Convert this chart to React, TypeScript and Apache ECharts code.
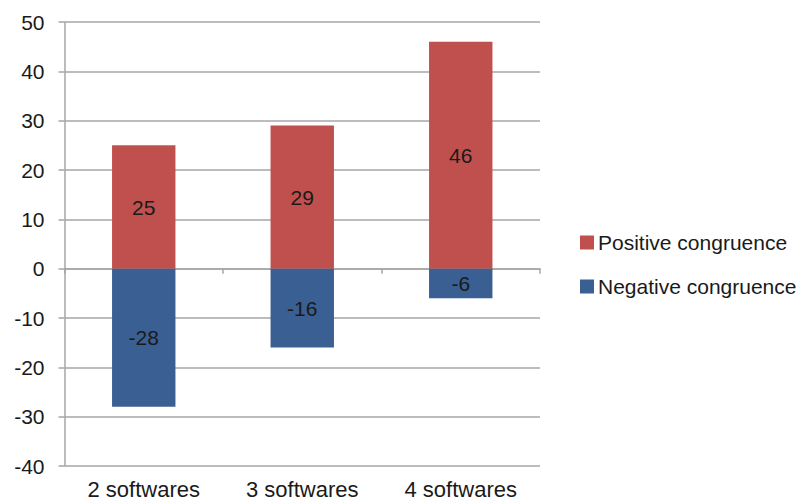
import React, { useEffect, useRef } from "react";
import * as echarts from "echarts";

const categories = ["2 softwares", "3 softwares", "4 softwares"];
const positiveValues = [25, 29, 46];
const negativeValues = [-28, -16, -6];
const seriesNames = ["Positive congruence", "Negative congruence"];

const FONT = "'Liberation Sans', Arial, sans-serif";
const TEXT = "#1a1a1a";
const GRID_GRAY = "#a6a6a6";

export default function App() {
  const ref = useRef<HTMLDivElement>(null);

  useEffect(() => {
    if (!ref.current) return;
    const chart = echarts.init(ref.current, null, { renderer: "svg" });
    const labelStyle = {
      show: true,
      position: "inside" as const,
      color: TEXT,
      fontSize: 21,
      fontFamily: FONT,
    };
    chart.setOption({
      animation: false,
      backgroundColor: "#ffffff",
      textStyle: { fontFamily: FONT },
      grid: { left: 64.5, right: 266, top: 22, bottom: 36, containLabel: false },
      legend: {
        orient: "vertical",
        left: 575,
        top: 227,
        itemWidth: 14,
        itemHeight: 14,
        itemGap: 23,
        icon: "rect",
        data: seriesNames,
        textStyle: { color: TEXT, fontSize: 21, fontFamily: FONT, padding: [0, 0, 0, -1] },
      },
      xAxis: [
        {
          type: "category",
          data: categories,
          position: "bottom",
          axisLine: { show: false, onZero: false },
          axisTick: { show: false },
          axisLabel: { color: TEXT, fontSize: 22, fontFamily: FONT, margin: 12 },
        },
        {
          type: "category",
          data: categories,
          position: "top",
          axisLine: { show: true, onZero: true, lineStyle: { color: GRID_GRAY, width: 1.5 } },
          axisTick: { show: true, inside: true, length: 5, lineStyle: { color: GRID_GRAY, width: 1.5 } },
          axisLabel: { show: false },
        },
      ],
      yAxis: {
        type: "value",
        min: -40,
        max: 50,
        interval: 10,
        axisLine: { show: true, lineStyle: { color: GRID_GRAY, width: 1.5 } },
        axisTick: { show: true, length: 6, lineStyle: { color: GRID_GRAY, width: 1.5 } },
        axisLabel: { color: TEXT, fontSize: 21, fontFamily: FONT, margin: 20 },
        splitLine: { show: true, lineStyle: { color: GRID_GRAY, width: 1.5 } },
      },
      series: [
        {
          name: seriesNames[0],
          type: "bar",
          stack: "total",
          xAxisIndex: 0,
          barWidth: "40%",
          data: positiveValues,
          itemStyle: { color: "#c0504d" },
          label: labelStyle,
        },
        {
          name: seriesNames[1],
          type: "bar",
          stack: "total",
          xAxisIndex: 0,
          barWidth: "40%",
          data: negativeValues,
          itemStyle: { color: "#3a5f92" },
          label: labelStyle,
        },
      ],
    });
    return () => chart.dispose();
  }, []);

  return <div ref={ref} style={{ width: 806, height: 502, position: "absolute", left: 0, top: 0 }} />;
}
